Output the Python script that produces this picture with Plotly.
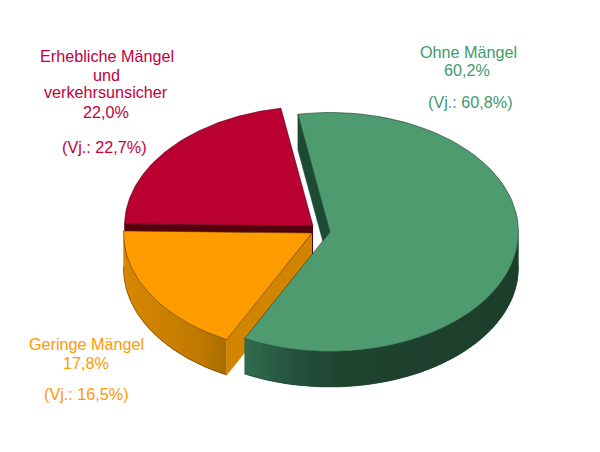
import numpy as np
import plotly.graph_objects as go

# order: clockwise from the top of the pie
names = [["Ohne Mängel"], ["Geringe Mängel"], ["Erhebliche Mängel", "und", "verkehrsunsicher"]]
values = [60.2, 17.8, 22.0]
prev_year = [60.8, 16.5, 22.7]

face_colors = ["#4f9b70", "#ff9c00", "#b90030"]
edge_colors = ["#1d3f2c", "#5a3800", "#4a0012"]
side_colors = ["#1c4a33", "#d08400", "#55000f"]
text_colors = ["#3f9a6e", "#ff9900", "#c4003c"]

# wall shading, runs along x
wall_x = [[245, 300, 345, 520], [124, 200, 228], [124, 314]]
wall_r = [[49, 36, 31, 28], [216, 192, 168], [85, 85]]
wall_g = [[108, 80, 68, 63], [136, 122, 108], [0, 0]]
wall_b = [[80, 60, 48, 44], [0, 0, 0], [15, 15]]

# pie geometry in picture pixels
CX, CY = 316, 230
RX, RY = 188.5, 119.5
DEPTH = 35.5
START = 99.8
explode = [(14, 2), (-4, 3), (-3, -4)]

# label rows: x, y of each text line
name_pos = [[(468, 52)], [(86, 344)], [(107, 56), (106, 75), (106, 92)]]
pct_pos = [(467, 70), (86, 363), (106, 112)]
prev_pos = [(470, 102), (86, 394), (104, 147)]
FONT = "Liberation Sans"
FONT_SIZE = 16.2


def rim(i, a0, a1, n=80, drop=0):
    t = np.radians(np.linspace(a0, a1, n))
    x = CX + explode[i][0] + RX * np.cos(t)
    y = CY + explode[i][1] - RY * np.sin(t) + drop
    return x, y


def poly(x, y, fill, line=None, width=0.6):
    return go.Scatter(x=list(x), y=list(y), mode="lines", fill="toself", fillcolor=fill,
                      line=dict(color=line or fill, width=width), hoverinfo="skip", showlegend=False)


# sweep angles from the values
total = sum(values)
ends = START - np.cumsum(values) / total * 360
starts = np.r_[START, ends[:-1]]

fig = go.Figure()


def add_radial_wall(i, angle, color):
    x, y = rim(i, angle, angle, n=1)
    ax, ay = CX + explode[i][0], CY + explode[i][1]
    fig.add_trace(poly([ax, x[0], x[0], ax], [ay, y[0], y[0] + DEPTH, ay + DEPTH], color))


def add_outer_wall(i, a0, a1):
    x, y = rim(i, a0, a1, n=60)
    # strips overlap the next one so no seams show through
    for k in range(len(x) - 1):
        j = min(k + 2, len(x) - 1)
        mid = (x[k] + x[k + 1]) / 2
        c = "rgb(%d,%d,%d)" % (np.interp(mid, wall_x[i], wall_r[i]),
                               np.interp(mid, wall_x[i], wall_g[i]),
                               np.interp(mid, wall_x[i], wall_b[i]))
        fig.add_trace(poly([x[k], x[j], x[j], x[k]],
                           [y[k], y[j], y[j] + DEPTH, y[k] + DEPTH], c, width=0))
    fig.add_trace(go.Scatter(x=x, y=y + DEPTH, mode="lines", hoverinfo="skip", showlegend=False,
                             line=dict(color=edge_colors[i], width=0.6)))


def add_face(i):
    x, y = rim(i, starts[i], ends[i])
    ax, ay = CX + explode[i][0], CY + explode[i][1]
    fig.add_trace(poly(np.r_[ax, x, ax], np.r_[ay, y, ay], face_colors[i], edge_colors[i]))


# red first, then orange, green sits on top
add_radial_wall(2, starts[2], side_colors[2])
add_face(2)

add_outer_wall(1, starts[1], ends[1])
add_radial_wall(1, starts[1], side_colors[1])
add_face(1)

add_radial_wall(0, starts[0], side_colors[0])
add_outer_wall(0, 0, ends[0])
add_face(0)

for i in range(3):
    rows = list(zip(names[i], name_pos[i]))
    pct = f"{values[i]:.1f}%".replace(".", ",")
    prev = f"{prev_year[i]:.1f}%".replace(".", ",")
    rows.append((pct, pct_pos[i]))
    rows.append((f"(Vj.: {prev})", prev_pos[i]))
    for text, (x, y) in rows:
        fig.add_annotation(x=x, y=y, text=text, showarrow=False, xanchor="center", yanchor="middle",
                           font=dict(family=FONT, size=FONT_SIZE, color=text_colors[i]))

fig.update_xaxes(range=[0, 600], visible=False, fixedrange=True)
fig.update_yaxes(range=[452, 0], visible=False, fixedrange=True)
fig.update_layout(width=600, height=452, margin=dict(l=0, r=0, t=0, b=0),
                  paper_bgcolor="white", plot_bgcolor="white", showlegend=False)

fig.write_html("out.html", config={"displayModeBar": False},
               post_script="document.body.style.margin='0';")
